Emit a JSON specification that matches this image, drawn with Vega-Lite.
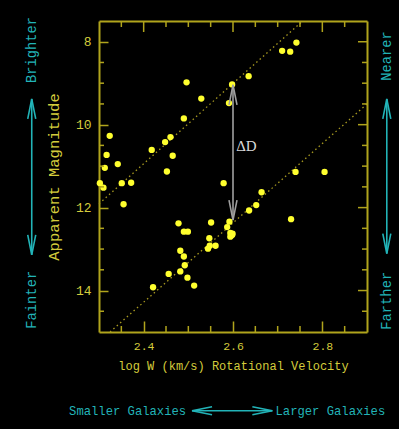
{
  "$schema": "https://vega.github.io/schema/vega-lite/v6.json",
  "width": 268,
  "height": 311,
  "autosize": "none",
  "padding": {"left": 99, "top": 21, "right": 32, "bottom": 97},
  "background": "#000000",
  "config": {
    "view": {"stroke": null},
    "axis": {
      "domainColor": "#b0a41c",
      "domainWidth": 2,
      "tickColor": "#b0a41c",
      "tickWidth": 1.5,
      "grid": false,
      "labelColor": "#d4cc3c",
      "titleColor": "#d4cc3c",
      "labelFont": "Liberation Mono",
      "titleFont": "Liberation Mono",
      "titleFontWeight": "normal"
    }
  },
  "datasets": {
    "points": [
      {"logW": 2.496, "mag": 8.98}, {"logW": 2.529, "mag": 9.37}, {"logW": 2.598, "mag": 9.03},
      {"logW": 2.591, "mag": 9.48}, {"logW": 2.490, "mag": 9.85}, {"logW": 2.324, "mag": 10.27},
      {"logW": 2.460, "mag": 10.30}, {"logW": 2.448, "mag": 10.42}, {"logW": 2.418, "mag": 10.61},
      {"logW": 2.465, "mag": 10.75}, {"logW": 2.317, "mag": 10.73}, {"logW": 2.342, "mag": 10.95},
      {"logW": 2.313, "mag": 11.04}, {"logW": 2.452, "mag": 11.13}, {"logW": 2.302, "mag": 11.41},
      {"logW": 2.310, "mag": 11.52}, {"logW": 2.351, "mag": 11.41}, {"logW": 2.372, "mag": 11.40},
      {"logW": 2.355, "mag": 11.92}, {"logW": 2.579, "mag": 11.41}, {"logW": 2.478, "mag": 12.38},
      {"logW": 2.490, "mag": 12.58}, {"logW": 2.499, "mag": 12.58}, {"logW": 2.551, "mag": 12.36},
      {"logW": 2.592, "mag": 12.34}, {"logW": 2.587, "mag": 12.47}, {"logW": 2.594, "mag": 12.61},
      {"logW": 2.598, "mag": 12.66}, {"logW": 2.594, "mag": 12.70}, {"logW": 2.547, "mag": 12.74},
      {"logW": 2.561, "mag": 12.92}, {"logW": 2.548, "mag": 12.92}, {"logW": 2.544, "mag": 12.99},
      {"logW": 2.482, "mag": 13.04}, {"logW": 2.490, "mag": 13.18}, {"logW": 2.492, "mag": 13.39},
      {"logW": 2.482, "mag": 13.54}, {"logW": 2.456, "mag": 13.60}, {"logW": 2.498, "mag": 13.69},
      {"logW": 2.513, "mag": 13.88}, {"logW": 2.421, "mag": 13.92}, {"logW": 2.742, "mag": 8.02},
      {"logW": 2.710, "mag": 8.22}, {"logW": 2.728, "mag": 8.24}, {"logW": 2.635, "mag": 8.83},
      {"logW": 2.740, "mag": 11.14}, {"logW": 2.805, "mag": 11.14}, {"logW": 2.664, "mag": 11.63},
      {"logW": 2.652, "mag": 11.94}, {"logW": 2.636, "mag": 12.07}, {"logW": 2.730, "mag": 12.28},
      {"logW": 2.599, "mag": 12.63}
    ],
    "lines": [
      {"line": "upper", "logW": 2.3, "mag": 11.91},
      {"line": "upper", "logW": 2.7557, "mag": 7.5},
      {"line": "lower", "logW": 2.3247, "mag": 15.0},
      {"line": "lower", "logW": 2.9, "mag": 9.5}
    ],
    "frameTicks": [
      {"logW": 2.35, "mag": 7.5, "logW2": 2.35, "mag2": 7.645},
      {"logW": 2.45, "mag": 7.5, "logW2": 2.45, "mag2": 7.645},
      {"logW": 2.5, "mag": 7.5, "logW2": 2.5, "mag2": 7.645},
      {"logW": 2.55, "mag": 7.5, "logW2": 2.55, "mag2": 7.645},
      {"logW": 2.65, "mag": 7.5, "logW2": 2.65, "mag2": 7.645},
      {"logW": 2.7, "mag": 7.5, "logW2": 2.7, "mag2": 7.645},
      {"logW": 2.75, "mag": 7.5, "logW2": 2.75, "mag2": 7.645},
      {"logW": 2.85, "mag": 7.5, "logW2": 2.85, "mag2": 7.645},
      {"logW": 2.4, "mag": 7.5, "logW2": 2.4, "mag2": 7.765},
      {"logW": 2.6, "mag": 7.5, "logW2": 2.6, "mag2": 7.765},
      {"logW": 2.8, "mag": 7.5, "logW2": 2.8, "mag2": 7.765},
      {"logW": 2.35, "mag": 15, "logW2": 2.35, "mag2": 14.855},
      {"logW": 2.45, "mag": 15, "logW2": 2.45, "mag2": 14.855},
      {"logW": 2.5, "mag": 15, "logW2": 2.5, "mag2": 14.855},
      {"logW": 2.55, "mag": 15, "logW2": 2.55, "mag2": 14.855},
      {"logW": 2.65, "mag": 15, "logW2": 2.65, "mag2": 14.855},
      {"logW": 2.7, "mag": 15, "logW2": 2.7, "mag2": 14.855},
      {"logW": 2.75, "mag": 15, "logW2": 2.75, "mag2": 14.855},
      {"logW": 2.85, "mag": 15, "logW2": 2.85, "mag2": 14.855},
      {"logW": 2.3, "mag": 8.5, "logW2": 2.3112, "mag2": 8.5},
      {"logW": 2.3, "mag": 9, "logW2": 2.3112, "mag2": 9},
      {"logW": 2.3, "mag": 9.5, "logW2": 2.3112, "mag2": 9.5},
      {"logW": 2.3, "mag": 10.5, "logW2": 2.3112, "mag2": 10.5},
      {"logW": 2.3, "mag": 11, "logW2": 2.3112, "mag2": 11},
      {"logW": 2.3, "mag": 11.5, "logW2": 2.3112, "mag2": 11.5},
      {"logW": 2.3, "mag": 12.5, "logW2": 2.3112, "mag2": 12.5},
      {"logW": 2.3, "mag": 13, "logW2": 2.3112, "mag2": 13},
      {"logW": 2.3, "mag": 13.5, "logW2": 2.3112, "mag2": 13.5},
      {"logW": 2.3, "mag": 14.5, "logW2": 2.3112, "mag2": 14.5},
      {"logW": 2.9, "mag": 8.5, "logW2": 2.8888, "mag2": 8.5},
      {"logW": 2.9, "mag": 9, "logW2": 2.8888, "mag2": 9},
      {"logW": 2.9, "mag": 9.5, "logW2": 2.8888, "mag2": 9.5},
      {"logW": 2.9, "mag": 10.5, "logW2": 2.8888, "mag2": 10.5},
      {"logW": 2.9, "mag": 11, "logW2": 2.8888, "mag2": 11},
      {"logW": 2.9, "mag": 11.5, "logW2": 2.8888, "mag2": 11.5},
      {"logW": 2.9, "mag": 12.5, "logW2": 2.8888, "mag2": 12.5},
      {"logW": 2.9, "mag": 13, "logW2": 2.8888, "mag2": 13},
      {"logW": 2.9, "mag": 13.5, "logW2": 2.8888, "mag2": 13.5},
      {"logW": 2.9, "mag": 14.5, "logW2": 2.8888, "mag2": 14.5},
      {"logW": 2.9, "mag": 8, "logW2": 2.8798, "mag2": 8},
      {"logW": 2.9, "mag": 10, "logW2": 2.8798, "mag2": 10},
      {"logW": 2.9, "mag": 12, "logW2": 2.8798, "mag2": 12},
      {"logW": 2.9, "mag": 14, "logW2": 2.8798, "mag2": 14}
    ],
    "arrows": [
      {"kind": "cyan", "logW": 2.1494, "mag": 9.38, "logW2": 2.1494, "mag2": 13.14},
      {"kind": "cyan", "logW": 2.9443, "mag": 9.38, "logW2": 2.9443, "mag2": 13.11},
      {"kind": "cyan", "logW": 2.5083, "mag": 16.898, "logW2": 2.6881, "mag2": 16.898},
      {"kind": "delta", "logW": 2.6, "mag": 9.04, "logW2": 2.6, "mag2": 12.3}
    ],
    "heads": [
      {"kind": "cyan", "dir": "up", "logW": 2.1494, "mag": 9.38},
      {"kind": "cyan", "dir": "down", "logW": 2.1494, "mag": 13.14},
      {"kind": "cyan", "dir": "up", "logW": 2.9443, "mag": 9.38},
      {"kind": "cyan", "dir": "down", "logW": 2.9443, "mag": 13.11},
      {"kind": "cyan", "dir": "left", "logW": 2.5083, "mag": 16.898},
      {"kind": "cyan", "dir": "right", "logW": 2.6881, "mag": 16.898},
      {"kind": "delta", "dir": "up", "logW": 2.6, "mag": 9.04},
      {"kind": "delta", "dir": "down", "logW": 2.6, "mag": 12.3}
    ],
    "sideText": [
      {"label": "Brighter", "logW": 2.1494, "mag": 8.199},
      {"label": "Fainter", "logW": 2.1494, "mag": 14.223},
      {"label": "Nearer", "logW": 2.9443, "mag": 8.343},
      {"label": "Farther", "logW": 2.9443, "mag": 14.247}
    ],
    "bottomText": [
      {"label": "Smaller Galaxies", "logW": 2.364, "mag": 16.898},
      {"label": "Larger Galaxies", "logW": 2.818, "mag": 16.898}
    ],
    "deltaText": [
      {"label": "ΔD", "logW": 2.6072, "mag": 10.51}
    ]
  },
  "resolve": {"axis": {"x": "independent", "y": "independent"}},
  "layer": [
    {
      "data": {"name": "lines"},
      "mark": {"type": "line", "strokeDash": [1.5, 3], "strokeWidth": 1.3, "color": "#a89a20"},
      "encoding": {
        "x": {"field": "logW", "type": "quantitative",
          "scale": {"domain": [2.3, 2.9], "nice": false, "zero": false},
          "axis": {"orient": "top", "title": null, "labels": false, "ticks": false, "values": [2.4]}},
        "y": {"field": "mag", "type": "quantitative",
          "scale": {"domain": [7.5, 15], "nice": false, "zero": false, "reverse": true},
          "axis": {"orient": "right", "title": null, "labels": false, "ticks": false, "values": [8]}},
        "detail": {"field": "line"}
      }
    },
    {
      "data": {"name": "points"},
      "mark": {"type": "circle", "size": 40, "color": "#ffff2e", "opacity": 1},
      "encoding": {
        "x": {"field": "logW", "type": "quantitative",
          "scale": {"domain": [2.3, 2.9], "nice": false, "zero": false},
          "axis": {"orient": "bottom", "title": "log W (km/s)   Rotational Velocity",
            "titleFontSize": 12, "titlePadding": 9,
            "values": [2.4, 2.6, 2.8],
            "format": ".1f", "labelFontSize": 11.5, "labelPadding": 19,
            "tickSize": -11}},
        "y": {"field": "mag", "type": "quantitative",
          "scale": {"domain": [7.5, 15], "nice": false, "zero": false, "reverse": true},
          "axis": {"orient": "left", "title": "Apparent Magnitude",
            "titleFontSize": 15.5, "titlePadding": 14,
            "values": [8, 10, 12, 14],
            "format": "d", "labelFontSize": 13, "labelPadding": 17,
            "tickSize": -9}}
      }
    },
    {
      "data": {"name": "frameTicks"},
      "mark": {"type": "rule", "strokeWidth": 1.5, "color": "#b0a41c"},
      "encoding": {
        "x": {"field": "logW", "type": "quantitative", "scale": {"domain": [2.3, 2.9], "nice": false, "zero": false}, "axis": null},
        "x2": {"field": "logW2"},
        "y": {"field": "mag", "type": "quantitative", "scale": {"domain": [7.5, 15], "nice": false, "zero": false, "reverse": true}, "axis": null},
        "y2": {"field": "mag2"}
      }
    },
    {
      "data": {"name": "arrows"},
      "mark": {"type": "rule", "strokeWidth": 1.6},
      "encoding": {
        "x": {"field": "logW", "type": "quantitative", "scale": {"domain": [2.3, 2.9], "nice": false, "zero": false}, "axis": null},
        "x2": {"field": "logW2"},
        "y": {"field": "mag", "type": "quantitative", "scale": {"domain": [7.5, 15], "nice": false, "zero": false, "reverse": true}, "axis": null},
        "y2": {"field": "mag2"},
        "color": {"field": "kind", "type": "nominal", "scale": {"domain": ["cyan", "delta"], "range": ["#22b4b8", "#a0a0a0"]}, "legend": null}
      }
    },
    {
      "data": {"name": "heads"},
      "mark": {"type": "point", "filled": false, "size": 100, "strokeWidth": 1.6, "opacity": 1},
      "encoding": {
        "x": {"field": "logW", "type": "quantitative", "scale": {"domain": [2.3, 2.9], "nice": false, "zero": false}, "axis": null},
        "y": {"field": "mag", "type": "quantitative", "scale": {"domain": [7.5, 15], "nice": false, "zero": false, "reverse": true}, "axis": null},
        "shape": {"field": "dir", "type": "nominal", "scale": {"domain": ["up", "down", "left", "right"], "range": ["M-0.8,4L0,0L0.8,4", "M-0.8,-4L0,0L0.8,-4", "M4,-0.8L0,0L4,0.8", "M-4,-0.8L0,0L-4,0.8"]}, "legend": null},
        "color": {"field": "kind", "type": "nominal", "scale": {"domain": ["cyan", "delta"], "range": ["#22b4b8", "#d8d8d8"]}, "legend": null}
      }
    },
    {
      "data": {"name": "sideText"},
      "mark": {"type": "text", "angle": 270, "align": "center", "baseline": "middle", "font": "Liberation Mono", "fontSize": 13.8, "color": "#22b4b8"},
      "encoding": {
        "x": {"field": "logW", "type": "quantitative", "scale": {"domain": [2.3, 2.9], "nice": false, "zero": false}, "axis": null},
        "y": {"field": "mag", "type": "quantitative", "scale": {"domain": [7.5, 15], "nice": false, "zero": false, "reverse": true}, "axis": null},
        "text": {"field": "label"}
      }
    },
    {
      "data": {"name": "bottomText"},
      "mark": {"type": "text", "align": "center", "baseline": "middle", "font": "Liberation Mono", "fontSize": 12.2, "color": "#22b4b8"},
      "encoding": {
        "x": {"field": "logW", "type": "quantitative", "scale": {"domain": [2.3, 2.9], "nice": false, "zero": false}, "axis": null},
        "y": {"field": "mag", "type": "quantitative", "scale": {"domain": [7.5, 15], "nice": false, "zero": false, "reverse": true}, "axis": null},
        "text": {"field": "label"}
      }
    },
    {
      "data": {"name": "deltaText"},
      "mark": {"type": "text", "align": "left", "baseline": "middle", "font": "Liberation Serif", "fontSize": 15, "color": "#d8d8d8"},
      "encoding": {
        "x": {"field": "logW", "type": "quantitative", "scale": {"domain": [2.3, 2.9], "nice": false, "zero": false}, "axis": null},
        "y": {"field": "mag", "type": "quantitative", "scale": {"domain": [7.5, 15], "nice": false, "zero": false, "reverse": true}, "axis": null},
        "text": {"field": "label"}
      }
    }
  ]
}
